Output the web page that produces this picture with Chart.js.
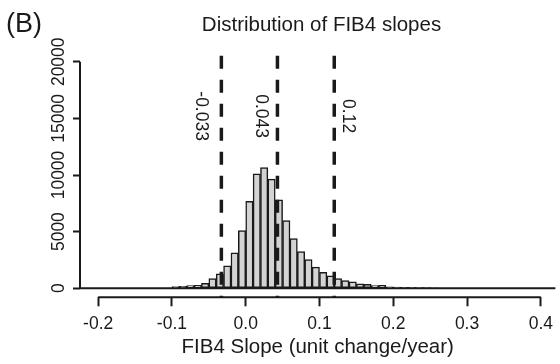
<!DOCTYPE html>
<html>
<head>
<meta charset="utf-8">
<script src="https://cdn.jsdelivr.net/npm/chart.js@4"></script>
<style>
  html, body { margin: 0; padding: 0; background: #fff; }
  #wrap { width: 560px; height: 364px; }
</style>
</head>
<body>
<div id="wrap"><canvas id="hist" width="560" height="364"></canvas></div>
<script>
// histogram bins (left edge), width 0.01
const binStarts = [-0.10, -0.09, -0.08, -0.07, -0.06, -0.05, -0.04, -0.03, -0.02, -0.01,
  0.00, 0.01, 0.02, 0.03, 0.04, 0.05, 0.06, 0.07, 0.08, 0.09,
  0.10, 0.11, 0.12, 0.13, 0.14, 0.15, 0.16, 0.17, 0.18, 0.19,
  0.20, 0.21, 0.22, 0.23, 0.24, 0.25];
const binWidth = 0.01;
const counts = [150, 160, 240, 250, 440, 860, 1270, 1970, 3120, 5090,
  7680, 10100, 10660, 9630, 7800, 5980, 4380, 3240, 2530, 1860,
  1410, 1090, 850, 680, 560, 380, 350, 240, 260, 120,
  100, 80, 70, 60, 50, 40];

const xTicks = [-0.2, -0.1, 0.0, 0.1, 0.2, 0.3, 0.4];
const yTicks = [0, 5000, 10000, 15000, 20000];

const cutoffs = [-0.033, 0.043, 0.12];
const cutoffLabels = ["-0.033", "0.043", "0.12"];

const FONT = "'Liberation Sans', Arial, Helvetica, sans-serif";
const INK = "#1a1a1a";

const histData = binStarts.map((b, i) => ({ x: b + binWidth / 2, y: counts[i] }));

// R-style axes, reference lines and texts
const rDecor = {
  id: "rDecor",
  afterDatasetsDraw(chart) {
    const { ctx, chartArea: area } = chart;
    const xs = chart.scales.x;
    const ys = chart.scales.y;
    ctx.save();
    ctx.strokeStyle = INK;
    ctx.fillStyle = INK;

    // baseline at 0
    ctx.lineWidth = 2;
    ctx.beginPath();
    ctx.moveTo(area.left, ys.getPixelForValue(0));
    ctx.lineTo(area.right, ys.getPixelForValue(0));
    ctx.stroke();

    // x axis line between first and last tick
    ctx.beginPath();
    ctx.moveTo(xs.getPixelForValue(xTicks[0]), area.bottom);
    ctx.lineTo(xs.getPixelForValue(xTicks[xTicks.length - 1]), area.bottom);
    ctx.stroke();

    // y axis line
    ctx.beginPath();
    ctx.moveTo(area.left, ys.getPixelForValue(yTicks[0]));
    ctx.lineTo(area.left, ys.getPixelForValue(yTicks[yTicks.length - 1]));
    ctx.stroke();

    // y tick labels, rotated
    ctx.font = "17.5px " + FONT;
    ctx.textAlign = "center";
    ctx.textBaseline = "middle";
    yTicks.forEach((v) => {
      ctx.save();
      ctx.translate(59, ys.getPixelForValue(v));
      ctx.rotate(-Math.PI / 2);
      ctx.fillText(String(v), 0, 0);
      ctx.restore();
    });

    // dashed cutoff lines
    ctx.lineWidth = 3.5;
    ctx.setLineDash([13, 11]);
    ctx.lineDashOffset = -3;
    cutoffs.forEach((c) => {
      const px = xs.getPixelForValue(c);
      ctx.beginPath();
      ctx.moveTo(px, area.top);
      ctx.lineTo(px, area.bottom);
      ctx.stroke();
    });
    ctx.setLineDash([]);

    // cutoff labels
    const offsets = [-21, -17, 14];
    cutoffLabels.forEach((t, i) => {
      ctx.save();
      ctx.translate(xs.getPixelForValue(cutoffs[i]) + offsets[i], ys.getPixelForValue(15200));
      ctx.rotate(Math.PI / 2);
      ctx.fillText(t, 0, 0);
      ctx.restore();
    });

    // titles
    ctx.textBaseline = "alphabetic";
    ctx.font = "20.5px " + FONT;
    ctx.fillText("Distribution of FIB4 slopes", 321.5, 30.5);
    ctx.textAlign = "left";
    ctx.font = "27px " + FONT;
    ctx.fillText("(B)", 6, 32);
    ctx.restore();
  },
};

new Chart(document.getElementById("hist"), {
  type: "bar",
  data: {
    datasets: [{
      data: histData,
      backgroundColor: "#d3d3d3",
      borderColor: INK,
      borderWidth: 1.5,
      borderSkipped: false,
      barPercentage: 1,
      categoryPercentage: 1,
      grouped: false,
    }],
  },
  options: {
    responsive: false,
    animation: false,
    layout: { padding: { top: 52.7, left: 0, right: 0, bottom: 0 } },
    plugins: { legend: { display: false }, tooltip: { enabled: false }, title: { display: false } },
    scales: {
      x: {
        type: "linear",
        min: -0.2246,
        max: 0.4197,
        offset: false,
        afterFit: (scale) => { scale.height = 66.7; },
        afterBuildTicks: (scale) => { scale.ticks = xTicks.map((v) => ({ value: v })); },
        border: { display: false },
        grid: { offset: false, drawOnChartArea: false, drawTicks: true, tickLength: 9, tickWidth: 2, tickColor: INK },
        ticks: {
          padding: 7,
          color: INK,
          font: { family: FONT, size: 17.5 },
          callback: (v) => v.toFixed(1),
          maxRotation: 0,
        },
        title: {
          display: true,
          text: "FIB4 Slope (unit change/year)",
          color: INK,
          font: { family: FONT, size: 20.5 },
          padding: { top: 0, bottom: 4 },
        },
      },
      y: {
        min: -800,
        max: 20800,
        afterFit: (scale) => { scale.width = 80; },
        afterBuildTicks: (scale) => { scale.ticks = yTicks.map((v) => ({ value: v })); },
        border: { display: false },
        grid: { drawOnChartArea: false, drawTicks: true, tickLength: 7, tickWidth: 2, tickColor: INK },
        ticks: { display: false },
      },
    },
  },
  plugins: [rDecor],
});
</script>
</body>
</html>
